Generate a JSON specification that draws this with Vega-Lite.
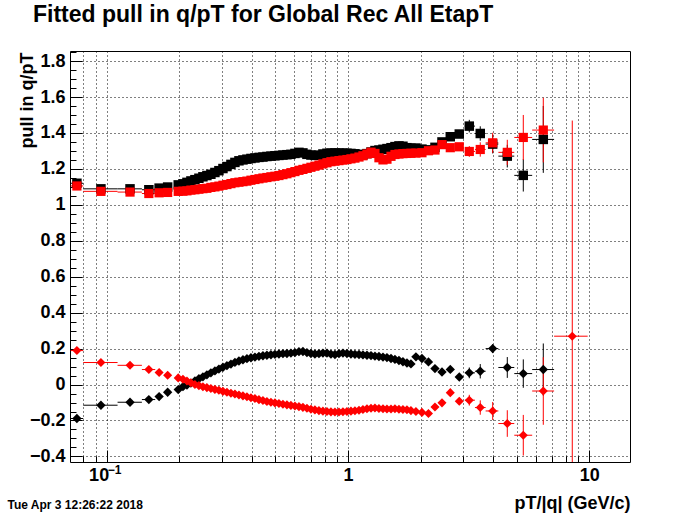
{
  "$schema": "https://vega.github.io/schema/vega-lite/v6.json",
  "width": 560,
  "height": 411,
  "autosize": {"type": "none"},
  "padding": {"left": 70, "top": 51, "right": 70, "bottom": 52},
  "background": "white",
  "config": {
    "font": "Liberation Sans",
    "view": {"stroke": "#000000", "strokeWidth": 1},
    "axis": {"labelOverlap": false, "labelFlush": false, "labelBound": false}
  },
  "title": {
    "text": "Fitted pull in q/pT for Global Rec All EtapT",
    "anchor": "start",
    "frame": "group",
    "dx": -37,
    "offset": -1.5,
    "baseline": "alphabetic",
    "font": "Liberation Sans",
    "fontSize": 23,
    "fontWeight": "bold",
    "color": "#000000"
  },
  "datasets": {
    "pts": [
      {"x": 0.0753, "bu": 1.12, "ru": 1.105, "bl": -0.189, "rl": 0.189},
      {"x": 0.0947, "bu": 1.089, "ru": 1.075, "bl": -0.115, "rl": 0.1225},
      {"x": 0.125, "bu": 1.089, "ru": 1.071, "bl": -0.0985, "rl": 0.107},
      {"x": 0.1496, "bu": 1.084, "ru": 1.063, "bl": -0.0835, "rl": 0.0835},
      {"x": 0.165, "bu": 1.093, "ru": 1.067, "bl": -0.067, "rl": 0.067},
      {"x": 0.179, "bu": 1.099, "ru": 1.069, "bl": -0.043, "rl": 0.052},
      {"x": 0.198, "bu": 1.111, "ru": 1.075, "bl": -0.028, "rl": 0.037},
      {"x": 0.2071, "bu": 1.117, "ru": 1.076, "bl": -0.012, "rl": 0.03},
      {"x": 0.2152, "bu": 1.125, "ru": 1.078, "bl": -0.003, "rl": 0.02},
      {"x": 0.2235, "bu": 1.133, "ru": 1.082, "bl": 0.008, "rl": 0.01},
      {"x": 0.2322, "bu": 1.14, "ru": 1.084, "bl": 0.02, "rl": 0.0},
      {"x": 0.2412, "bu": 1.148, "ru": 1.087, "bl": 0.032, "rl": -0.006},
      {"x": 0.2506, "bu": 1.156, "ru": 1.09, "bl": 0.043, "rl": -0.012},
      {"x": 0.2603, "bu": 1.163, "ru": 1.092, "bl": 0.054, "rl": -0.017},
      {"x": 0.2704, "bu": 1.17, "ru": 1.097, "bl": 0.065, "rl": -0.022},
      {"x": 0.281, "bu": 1.18, "ru": 1.1, "bl": 0.076, "rl": -0.027},
      {"x": 0.2919, "bu": 1.19, "ru": 1.104, "bl": 0.086, "rl": -0.032},
      {"x": 0.3034, "bu": 1.202, "ru": 1.109, "bl": 0.096, "rl": -0.038},
      {"x": 0.3151, "bu": 1.213, "ru": 1.113, "bl": 0.105, "rl": -0.043},
      {"x": 0.3274, "bu": 1.225, "ru": 1.118, "bl": 0.114, "rl": -0.048},
      {"x": 0.3401, "bu": 1.236, "ru": 1.123, "bl": 0.123, "rl": -0.053},
      {"x": 0.3534, "bu": 1.245, "ru": 1.126, "bl": 0.131, "rl": -0.058},
      {"x": 0.3672, "bu": 1.25, "ru": 1.129, "bl": 0.138, "rl": -0.063},
      {"x": 0.3814, "bu": 1.254, "ru": 1.132, "bl": 0.144, "rl": -0.068},
      {"x": 0.3963, "bu": 1.258, "ru": 1.137, "bl": 0.149, "rl": -0.073},
      {"x": 0.4117, "bu": 1.261, "ru": 1.141, "bl": 0.153, "rl": -0.078},
      {"x": 0.4277, "bu": 1.264, "ru": 1.145, "bl": 0.157, "rl": -0.084},
      {"x": 0.4443, "bu": 1.266, "ru": 1.149, "bl": 0.16, "rl": -0.089},
      {"x": 0.4615, "bu": 1.269, "ru": 1.152, "bl": 0.163, "rl": -0.094},
      {"x": 0.4795, "bu": 1.271, "ru": 1.156, "bl": 0.166, "rl": -0.098},
      {"x": 0.4982, "bu": 1.273, "ru": 1.159, "bl": 0.168, "rl": -0.102},
      {"x": 0.5176, "bu": 1.275, "ru": 1.163, "bl": 0.17, "rl": -0.106},
      {"x": 0.5377, "bu": 1.277, "ru": 1.168, "bl": 0.172, "rl": -0.11},
      {"x": 0.5586, "bu": 1.279, "ru": 1.173, "bl": 0.173, "rl": -0.113},
      {"x": 0.5803, "bu": 1.281, "ru": 1.179, "bl": 0.175, "rl": -0.116},
      {"x": 0.603, "bu": 1.286, "ru": 1.185, "bl": 0.178, "rl": -0.119},
      {"x": 0.6265, "bu": 1.292, "ru": 1.192, "bl": 0.183, "rl": -0.123},
      {"x": 0.6507, "bu": 1.289, "ru": 1.197, "bl": 0.184, "rl": -0.127},
      {"x": 0.6761, "bu": 1.281, "ru": 1.203, "bl": 0.178, "rl": -0.132},
      {"x": 0.7024, "bu": 1.277, "ru": 1.209, "bl": 0.173, "rl": -0.137},
      {"x": 0.7297, "bu": 1.275, "ru": 1.215, "bl": 0.17, "rl": -0.141},
      {"x": 0.7582, "bu": 1.276, "ru": 1.221, "bl": 0.172, "rl": -0.145},
      {"x": 0.7876, "bu": 1.283, "ru": 1.228, "bl": 0.175, "rl": -0.148},
      {"x": 0.8185, "bu": 1.287, "ru": 1.234, "bl": 0.175, "rl": -0.15},
      {"x": 0.8502, "bu": 1.288, "ru": 1.24, "bl": 0.169, "rl": -0.152},
      {"x": 0.8834, "bu": 1.289, "ru": 1.243, "bl": 0.167, "rl": -0.153},
      {"x": 0.9177, "bu": 1.288, "ru": 1.246, "bl": 0.172, "rl": -0.153},
      {"x": 0.9535, "bu": 1.288, "ru": 1.249, "bl": 0.175, "rl": -0.151},
      {"x": 0.9906, "bu": 1.287, "ru": 1.252, "bl": 0.173, "rl": -0.15},
      {"x": 1.029, "bu": 1.286, "ru": 1.256, "bl": 0.17, "rl": -0.148},
      {"x": 1.069, "bu": 1.284, "ru": 1.26, "bl": 0.168, "rl": -0.146},
      {"x": 1.111, "bu": 1.281, "ru": 1.266, "bl": 0.167, "rl": -0.143},
      {"x": 1.154, "bu": 1.278, "ru": 1.273, "bl": 0.165, "rl": -0.139},
      {"x": 1.199, "bu": 1.285, "ru": 1.283, "bl": 0.163, "rl": -0.135},
      {"x": 1.246, "bu": 1.294, "ru": 1.293, "bl": 0.161, "rl": -0.132},
      {"x": 1.294, "bu": 1.302, "ru": 1.286, "bl": 0.158, "rl": -0.131},
      {"x": 1.344, "bu": 1.305, "ru": 1.262, "bl": 0.156, "rl": -0.133},
      {"x": 1.397, "bu": 1.309, "ru": 1.25, "bl": 0.153, "rl": -0.135},
      {"x": 1.451, "bu": 1.313, "ru": 1.254, "bl": 0.15, "rl": -0.136},
      {"x": 1.508, "bu": 1.318, "ru": 1.27, "bl": 0.145, "rl": -0.136},
      {"x": 1.566, "bu": 1.324, "ru": 1.28, "bl": 0.14, "rl": -0.135},
      {"x": 1.627, "bu": 1.328, "ru": 1.283, "bl": 0.134, "rl": -0.137},
      {"x": 1.69, "bu": 1.326, "ru": 1.285, "bl": 0.127, "rl": -0.139},
      {"x": 1.756, "bu": 1.318, "ru": 1.286, "bl": 0.12, "rl": -0.14},
      {"x": 1.824, "bu": 1.315, "ru": 1.287, "bl": 0.115, "rl": -0.145},
      {"x": 1.913, "bu": 1.316, "ru": 1.288, "bl": 0.154, "rl": -0.15},
      {"x": 2.026, "bu": 1.31, "ru": 1.29, "bl": 0.145, "rl": -0.155},
      {"x": 2.156, "bu": 1.306, "ru": 1.301, "bl": 0.126, "rl": -0.161},
      {"x": 2.294, "bu": 1.32, "ru": 1.305, "bl": 0.089, "rl": -0.125},
      {"x": 2.453, "bu": 1.35, "ru": 1.335, "bl": 0.07, "rl": -0.102},
      {"x": 2.655, "bu": 1.379, "ru": 1.318, "bl": 0.084, "rl": -0.045},
      {"x": 2.893, "bu": 1.394, "ru": 1.323, "bl": 0.042, "rl": -0.093},
      {"x": 3.183, "bu": 1.438, "ru": 1.297, "bl": 0.065, "rl": -0.087},
      {"x": 3.534, "bu": 1.397, "ru": 1.308, "bl": 0.074, "rl": -0.128},
      {"x": 3.979, "bu": 1.338, "ru": 1.345, "bl": 0.2, "rl": -0.147},
      {"x": 4.574, "bu": 1.271, "ru": 1.292, "bl": 0.095, "rl": -0.217},
      {"x": 5.328, "bu": 1.164, "ru": 1.375, "bl": 0.061, "rl": -0.282},
      {"x": 6.449, "bu": 1.364, "ru": 1.416, "bl": 0.0835, "rl": -0.036},
      {"x": 8.503, "bu": null, "ru": null, "bl": null, "rl": 0.269}
    ],
    "err": [
      {"s": "bu", "x": 0.0753, "y": 1.12, "xlo": 0.071, "xhi": 0.08},
      {"s": "bu", "x": 0.0947, "y": 1.089, "xlo": 0.08, "xhi": 0.111},
      {"s": "bu", "x": 0.125, "y": 1.089, "xlo": 0.111, "xhi": 0.14},
      {"s": "bu", "x": 0.1496, "y": 1.084, "xlo": 0.14, "xhi": 0.159},
      {"s": "bu", "x": 3.183, "y": 1.438, "xlo": 3.05, "xhi": 3.36, "ylo": 1.403, "yhi": 1.473},
      {"s": "bu", "x": 3.534, "y": 1.397, "xlo": 3.36, "xhi": 3.72, "ylo": 1.357, "yhi": 1.437},
      {"s": "bu", "x": 3.979, "y": 1.338, "xlo": 3.72, "xhi": 4.2, "ylo": 1.286, "yhi": 1.39},
      {"s": "bu", "x": 4.574, "y": 1.271, "xlo": 4.2, "xhi": 4.89, "ylo": 1.208, "yhi": 1.334},
      {"s": "bu", "x": 5.328, "y": 1.164, "xlo": 4.89, "xhi": 5.8, "ylo": 1.074, "yhi": 1.254},
      {"s": "bu", "x": 6.449, "y": 1.364, "xlo": 5.8, "xhi": 7.15, "ylo": 1.178, "yhi": 1.55},
      {"s": "bl", "x": 0.0753, "y": -0.189, "xlo": 0.071, "xhi": 0.08},
      {"s": "bl", "x": 0.0947, "y": -0.115, "xlo": 0.08, "xhi": 0.111},
      {"s": "bl", "x": 0.125, "y": -0.0985, "xlo": 0.111, "xhi": 0.14},
      {"s": "bl", "x": 0.1496, "y": -0.0835, "xlo": 0.14, "xhi": 0.159},
      {"s": "bl", "x": 3.183, "y": 0.065, "xlo": 3.05, "xhi": 3.36, "ylo": 0.035, "yhi": 0.095},
      {"s": "bl", "x": 3.534, "y": 0.074, "xlo": 3.36, "xhi": 3.72, "ylo": 0.034, "yhi": 0.114},
      {"s": "bl", "x": 3.979, "y": 0.2, "xlo": 3.72, "xhi": 4.2, "ylo": 0.175, "yhi": 0.225},
      {"s": "bl", "x": 4.574, "y": 0.095, "xlo": 4.2, "xhi": 4.89, "ylo": 0.037, "yhi": 0.153},
      {"s": "bl", "x": 5.328, "y": 0.061, "xlo": 4.89, "xhi": 5.8, "ylo": -0.018, "yhi": 0.14},
      {"s": "bl", "x": 6.449, "y": 0.0835, "xlo": 5.8, "xhi": 7.15, "ylo": -0.0615, "yhi": 0.2285},
      {"s": "ru", "x": 0.0753, "y": 1.105, "xlo": 0.071, "xhi": 0.08},
      {"s": "ru", "x": 0.0947, "y": 1.075, "xlo": 0.08, "xhi": 0.111},
      {"s": "ru", "x": 0.125, "y": 1.071, "xlo": 0.111, "xhi": 0.14},
      {"s": "ru", "x": 0.1496, "y": 1.063, "xlo": 0.14, "xhi": 0.159},
      {"s": "ru", "x": 3.183, "y": 1.297, "xlo": 3.05, "xhi": 3.36, "ylo": 1.267, "yhi": 1.327},
      {"s": "ru", "x": 3.534, "y": 1.308, "xlo": 3.36, "xhi": 3.72, "ylo": 1.268, "yhi": 1.348},
      {"s": "ru", "x": 3.979, "y": 1.345, "xlo": 3.72, "xhi": 4.2, "ylo": 1.289, "yhi": 1.401},
      {"s": "ru", "x": 4.574, "y": 1.292, "xlo": 4.2, "xhi": 4.89, "ylo": 1.222, "yhi": 1.362},
      {"s": "ru", "x": 5.328, "y": 1.375, "xlo": 4.89, "xhi": 5.8, "ylo": 1.25, "yhi": 1.5},
      {"s": "ru", "x": 6.449, "y": 1.416, "xlo": 5.8, "xhi": 7.15, "ylo": 1.236, "yhi": 1.596},
      {"s": "rl", "x": 0.0753, "y": 0.189, "xlo": 0.071, "xhi": 0.08},
      {"s": "rl", "x": 0.0947, "y": 0.1225, "xlo": 0.08, "xhi": 0.111},
      {"s": "rl", "x": 0.125, "y": 0.107, "xlo": 0.111, "xhi": 0.14},
      {"s": "rl", "x": 0.1496, "y": 0.0835, "xlo": 0.14, "xhi": 0.159},
      {"s": "rl", "x": 3.183, "y": -0.087, "xlo": 3.05, "xhi": 3.36, "ylo": -0.117, "yhi": -0.057},
      {"s": "rl", "x": 3.534, "y": -0.128, "xlo": 3.36, "xhi": 3.72, "ylo": -0.168, "yhi": -0.088},
      {"s": "rl", "x": 3.979, "y": -0.147, "xlo": 3.72, "xhi": 4.2, "ylo": -0.197, "yhi": -0.097},
      {"s": "rl", "x": 4.574, "y": -0.217, "xlo": 4.2, "xhi": 4.89, "ylo": -0.291, "yhi": -0.143},
      {"s": "rl", "x": 5.328, "y": -0.282, "xlo": 4.89, "xhi": 5.8, "ylo": -0.395, "yhi": -0.169},
      {"s": "rl", "x": 6.449, "y": -0.036, "xlo": 5.8, "xhi": 7.15, "ylo": -0.224, "yhi": 0.152},
      {"s": "rl", "x": 8.503, "y": 0.269, "xlo": 7.15, "xhi": 9.85, "ylo": -0.931, "yhi": 1.469}
    ]
  },
  "resolve": {"scale": {"x": "independent", "y": "independent"}},
  "layer": [
    {
      "data": {"name": "err"},
      "transform": [{"filter": "isValid(datum.ylo)"}],
      "mark": {"type": "rule", "strokeWidth": 1, "clip": true},
      "encoding": {
        "x": {
          "field": "x", "type": "quantitative",
          "scale": {"type": "log", "domain": [0.0705, 14.75], "nice": false},
          "axis": {
            "orient": "bottom", "values": [0.1], "ticks": false, "domain": false, "grid": false,
            "labelExpr": "'−1'", "labelFont": "Liberation Sans", "labelFontSize": 12, "labelFontWeight": "bold",
            "labelColor": "#000000", "labelOffset": 7.5, "labelPadding": 2, "labelBaseline": "top",
            "labelFlush": false, "labelOverlap": false,
            "title": "Tue Apr  3 12:26:22 2018", "titleFont": "Liberation Sans", "titleFontSize": 12,
            "titleFontWeight": "bold", "titleColor": "#000000", "titleAnchor": "start", "titleAlign": "left",
            "titleX": -63, "titleY": 46, "titleBaseline": "alphabetic"
          }
        },
        "y": {
          "field": "ylo", "type": "quantitative",
          "scale": {"domain": [-0.431, 1.856], "nice": false, "zero": false},
          "axis": null
        },
        "y2": {"field": "yhi"},
        "color": {
          "field": "s", "type": "nominal",
          "scale": {"domain": ["bu", "bl", "ru", "rl"], "range": ["#000000", "#000000", "#ff0000", "#ff0000"]},
          "legend": null
        }
      }
    },
    {
      "layer": [
        {
          "data": {"name": "err"},
          "transform": [{"filter": "isValid(datum.xlo)"}],
          "mark": {"type": "rule", "strokeWidth": 1, "clip": true},
          "encoding": {
            "x": {
              "field": "xlo", "type": "quantitative",
              "scale": {"type": "log", "domain": [0.0705, 14.75], "nice": false},
              "axis": {
                "orient": "bottom",
                "values": [0.08, 0.09, 0.1, 0.2, 0.3, 0.4, 0.5, 0.6, 0.7, 0.8, 0.9, 1, 2, 3, 4, 5, 6, 7, 8, 9, 10],
                "domain": false,
                "grid": true, "gridColor": "#000000", "gridDash": [1, 3], "gridWidth": 1, "gridOpacity": 1,
                "ticks": true, "tickColor": "#000000", "tickWidth": 1,
                "tickSize": {"condition": {"test": "datum.value == 0.1 || datum.value == 1 || datum.value == 10", "value": -12}, "value": -6},
                "labelExpr": "datum.value == 0.1 || datum.value == 10 ? '10' : (datum.value == 1 ? '1' : '')",
                "labelOffset": {"condition": {"test": "datum.value == 0.1", "value": -8}, "value": 0},
                "labelFont": "Liberation Sans", "labelFontSize": 18, "labelFontWeight": "bold", "labelColor": "#000000",
                "labelPadding": 16, "labelFlush": false, "labelOverlap": false, "labelBound": false,
                "title": "pT/|q| (GeV/c)", "titleFont": "Liberation Sans", "titleFontSize": 18, "titleFontWeight": "bold",
                "titleColor": "#000000", "titleAnchor": "end", "titleAlign": "right", "titleX": 560, "titleY": 46,
                "titleBaseline": "alphabetic"
              }
            },
            "x2": {"field": "xhi"},
            "y": {
              "field": "y", "type": "quantitative",
              "scale": {"domain": [-0.431, 1.856], "nice": false, "zero": false},
              "axis": {
                "orient": "left",
                "values": [-0.4, -0.35, -0.3, -0.25, -0.2, -0.15, -0.1, -0.05, 0, 0.05, 0.1, 0.15, 0.2, 0.25, 0.3, 0.35, 0.4, 0.45, 0.5, 0.55, 0.6, 0.65, 0.7, 0.75, 0.8, 0.85, 0.9, 0.95, 1, 1.05, 1.1, 1.15, 1.2, 1.25, 1.3, 1.35, 1.4, 1.45, 1.5, 1.55, 1.6, 1.65, 1.7, 1.75, 1.8, 1.85],
                "domain": false,
                "grid": true, "gridColor": "#000000", "gridDash": [1, 3], "gridWidth": 1,
                "gridOpacity": {"condition": {"test": "abs(datum.value * 5 - round(datum.value * 5)) < 0.001", "value": 1}, "value": 0},
                "ticks": true, "tickColor": "#000000", "tickWidth": 1,
                "tickSize": {"condition": {"test": "abs(datum.value * 5 - round(datum.value * 5)) < 0.001", "value": -12}, "value": -6},
                "labelExpr": "abs(datum.value * 5 - round(datum.value * 5)) < 0.001 ? format(datum.value, '.1~f') : ''",
                "labelFont": "Liberation Sans", "labelFontSize": 18, "labelFontWeight": "bold", "labelColor": "#000000",
                "labelPadding": 17, "labelOverlap": false, "labelFlush": false, "labelBound": false,
                "title": "pull in q/pT", "titleFont": "Liberation Sans", "titleFontSize": 18, "titleFontWeight": "bold",
                "titleColor": "#000000", "titleAngle": 270, "titleAlign": "right", "titleBaseline": "alphabetic",
                "titleX": -38, "titleY": 1
              }
            },
            "color": {
              "field": "s", "type": "nominal",
              "scale": {"domain": ["bu", "bl", "ru", "rl"], "range": ["#000000", "#000000", "#ff0000", "#ff0000"]},
              "legend": null
            }
          }
        },
        {
          "data": {"name": "pts"},
          "transform": [{"fold": ["bu", "bl", "ru", "rl"], "as": ["key", "val"]}],
          "mark": {"type": "point", "filled": true, "opacity": 1, "strokeWidth": 0},
          "encoding": {
            "x": {
              "field": "x", "type": "quantitative",
              "scale": {"type": "log", "domain": [0.0705, 14.75], "nice": false},
              "axis": {
                "orient": "bottom",
                "values": [0.08, 0.09, 0.1, 0.2, 0.3, 0.4, 0.5, 0.6, 0.7, 0.8, 0.9, 1, 2, 3, 4, 5, 6, 7, 8, 9, 10],
                "domain": false,
                "grid": true, "gridColor": "#000000", "gridDash": [1, 3], "gridWidth": 1, "gridOpacity": 1,
                "ticks": true, "tickColor": "#000000", "tickWidth": 1,
                "tickSize": {"condition": {"test": "datum.value == 0.1 || datum.value == 1 || datum.value == 10", "value": -12}, "value": -6},
                "labelExpr": "datum.value == 0.1 || datum.value == 10 ? '10' : (datum.value == 1 ? '1' : '')",
                "labelOffset": {"condition": {"test": "datum.value == 0.1", "value": -8}, "value": 0},
                "labelFont": "Liberation Sans", "labelFontSize": 18, "labelFontWeight": "bold", "labelColor": "#000000",
                "labelPadding": 16, "labelFlush": false, "labelOverlap": false, "labelBound": false,
                "title": "pT/|q| (GeV/c)", "titleFont": "Liberation Sans", "titleFontSize": 18, "titleFontWeight": "bold",
                "titleColor": "#000000", "titleAnchor": "end", "titleAlign": "right", "titleX": 560, "titleY": 46,
                "titleBaseline": "alphabetic"
              }
            },
            "y": {
              "field": "val", "type": "quantitative",
              "scale": {"domain": [-0.431, 1.856], "nice": false, "zero": false},
              "axis": {
                "orient": "left",
                "values": [-0.4, -0.35, -0.3, -0.25, -0.2, -0.15, -0.1, -0.05, 0, 0.05, 0.1, 0.15, 0.2, 0.25, 0.3, 0.35, 0.4, 0.45, 0.5, 0.55, 0.6, 0.65, 0.7, 0.75, 0.8, 0.85, 0.9, 0.95, 1, 1.05, 1.1, 1.15, 1.2, 1.25, 1.3, 1.35, 1.4, 1.45, 1.5, 1.55, 1.6, 1.65, 1.7, 1.75, 1.8, 1.85],
                "domain": false,
                "grid": true, "gridColor": "#000000", "gridDash": [1, 3], "gridWidth": 1,
                "gridOpacity": {"condition": {"test": "abs(datum.value * 5 - round(datum.value * 5)) < 0.001", "value": 1}, "value": 0},
                "ticks": true, "tickColor": "#000000", "tickWidth": 1,
                "tickSize": {"condition": {"test": "abs(datum.value * 5 - round(datum.value * 5)) < 0.001", "value": -12}, "value": -6},
                "labelExpr": "abs(datum.value * 5 - round(datum.value * 5)) < 0.001 ? format(datum.value, '.1~f') : ''",
                "labelFont": "Liberation Sans", "labelFontSize": 18, "labelFontWeight": "bold", "labelColor": "#000000",
                "labelPadding": 17, "labelOverlap": false, "labelFlush": false, "labelBound": false,
                "title": "pull in q/pT", "titleFont": "Liberation Sans", "titleFontSize": 18, "titleFontWeight": "bold",
                "titleColor": "#000000", "titleAngle": 270, "titleAlign": "right", "titleBaseline": "alphabetic",
                "titleX": -38, "titleY": 1
              }
            },
            "color": {
              "field": "key", "type": "nominal",
              "scale": {"domain": ["bu", "bl", "ru", "rl"], "range": ["#000000", "#000000", "#ff0000", "#ff0000"]},
              "legend": null
            },
            "shape": {
              "field": "key", "type": "nominal",
              "scale": {"domain": ["bu", "bl", "ru", "rl"], "range": ["square", "diamond", "square", "diamond"]},
              "legend": null
            },
            "size": {
              "field": "key", "type": "nominal",
              "scale": {"domain": ["bu", "bl", "ru", "rl"], "range": [90, 82, 90, 82]},
              "legend": null
            },
            "order": {"field": "key"}
          }
        }
      ]
    }
  ]
}
